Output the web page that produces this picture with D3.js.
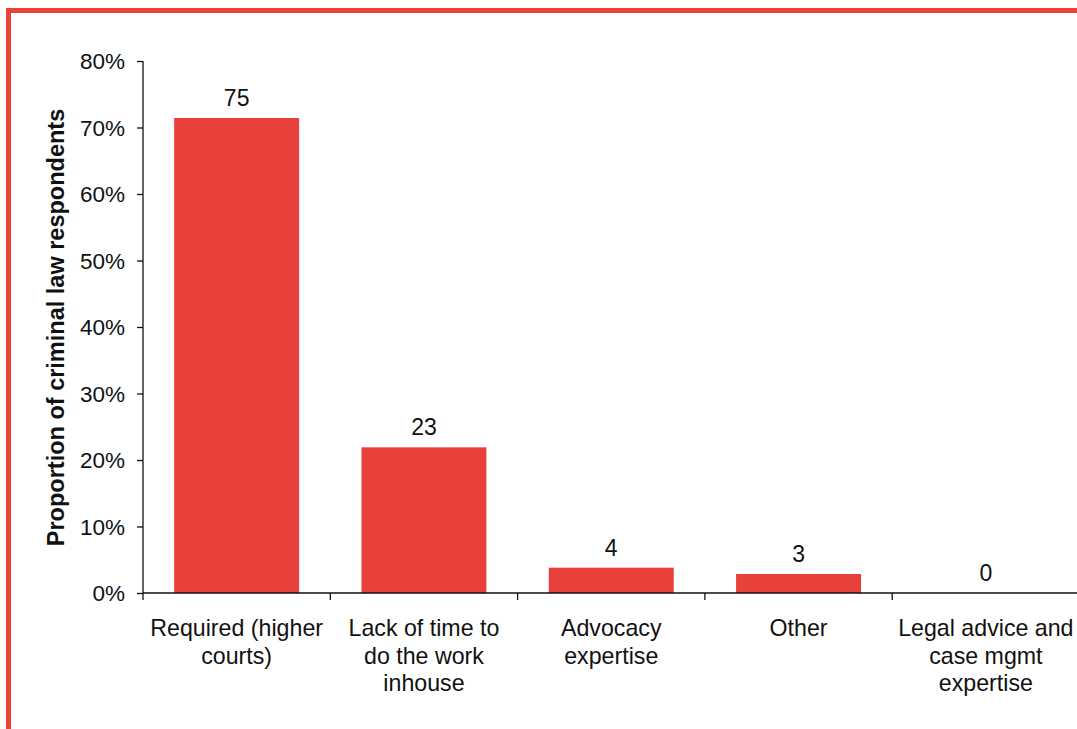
<!DOCTYPE html>
<html>
<head>
<meta charset="utf-8">
<script src="https://cdn.jsdelivr.net/npm/d3@7"></script>
<style>
  html, body { margin: 0; padding: 0; background: #ffffff; }
  svg { display: block; font-family: "Liberation Sans", Arial, sans-serif; }
</style>
</head>
<body>
<svg id="chart" width="1077" height="729"></svg>
<script>
// Reasons given by criminal law respondents (counts)
const categories = [
  ["Required (higher", "courts)"],
  ["Lack of time to", "do the work", "inhouse"],
  ["Advocacy", "expertise"],
  ["Other"],
  ["Legal advice and", "case mgmt", "expertise"]
];
const counts = [75, 23, 4, 3, 0];
const yTicks = [0, 0.1, 0.2, 0.3, 0.4, 0.5, 0.6, 0.7, 0.8];
const yTitle = "Proportion of criminal law respondents";

(function () {
  const total = d3.sum(counts);
  const shares = counts.map(c => c / total);

  const svg = d3.select("#chart");
  const red = "#e8403a";
  const frameRed = "#ee4138";

  // Frame lines along the top and left edges
  svg.append("rect").attr("x", 6).attr("y", 8).attr("width", 1071).attr("height", 5).attr("fill", frameRed);
  svg.append("rect").attr("x", 6).attr("y", 8).attr("width", 5).attr("height", 721).attr("fill", frameRed);

  const plotLeft = 143, plotTop = 61, plotBottom = 593, step = 187.3;
  const ids = categories.map((d, i) => i);

  const x = d3.scaleBand()
    .domain(ids)
    .range([plotLeft, plotLeft + step * ids.length])
    .paddingInner(0.333)
    .paddingOuter(0.1665);

  const y = d3.scaleLinear().domain([0, 0.8]).range([plotBottom, plotTop]);

  // Bars
  svg.append("g").selectAll("rect")
    .data(ids)
    .join("rect")
    .attr("x", i => x(i))
    .attr("y", i => y(shares[i]))
    .attr("width", x.bandwidth())
    .attr("height", i => y(0) - y(shares[i]))
    .attr("fill", red);

  // Value labels
  svg.append("g").selectAll("text")
    .data(ids)
    .join("text")
    .attr("x", i => x(i) + x.bandwidth() / 2)
    .attr("y", i => y(shares[i]) - 12)
    .attr("text-anchor", "middle")
    .attr("font-size", 23)
    .attr("fill", "#111")
    .text(i => counts[i]);

  // Y axis
  const yAxis = svg.append("g")
    .attr("transform", `translate(${plotLeft},0)`)
    .call(d3.axisLeft(y).tickValues(yTicks).tickFormat(d3.format(".0%")).tickSize(6).tickPadding(12));
  yAxis.select(".domain").attr("stroke", "#111").attr("stroke-width", 1.3).attr("d", `M0,${plotTop}V${plotBottom}`);
  yAxis.selectAll(".tick line").attr("stroke", "#111").attr("stroke-width", 1.3);
  yAxis.selectAll(".tick text").attr("font-size", 22.5).attr("fill", "#111")
    .attr("font-family", "'Liberation Sans', Arial, sans-serif").attr("dy", "0.35em");

  // X axis: ticks mark category boundaries
  const bounds = ids.map(i => plotLeft + step * i);
  const xg = svg.append("g");
  xg.append("line").attr("x1", plotLeft).attr("x2", 1077).attr("y1", plotBottom).attr("y2", plotBottom)
    .attr("stroke", "#111").attr("stroke-width", 1.3);
  xg.selectAll("line.tk").data(bounds).join("line").attr("class", "tk")
    .attr("x1", d => d).attr("x2", d => d).attr("y1", plotBottom).attr("y2", plotBottom + 7)
    .attr("stroke", "#111").attr("stroke-width", 1.3);

  // Category labels
  const lab = svg.append("g").selectAll("text")
    .data(ids)
    .join("text")
    .attr("x", i => x(i) + x.bandwidth() / 2)
    .attr("y", plotBottom + 43)
    .attr("text-anchor", "middle")
    .attr("font-size", 23.2)
    .attr("fill", "#111");
  lab.selectAll("tspan")
    .data(i => categories[i].map(t => ({ t, i })))
    .join("tspan")
    .attr("x", d => x(d.i) + x.bandwidth() / 2)
    .attr("dy", (d, k) => k === 0 ? 0 : 27.5)
    .text(d => d.t);

  // Y axis title
  svg.append("text")
    .attr("transform", `translate(64,${(108 + 547) / 2}) rotate(-90)`)
    .attr("text-anchor", "middle")
    .attr("font-size", 23.5)
    .attr("font-weight", "bold")
    .attr("fill", "#111")
    .text(yTitle);
})();
</script>
</body>
</html>
